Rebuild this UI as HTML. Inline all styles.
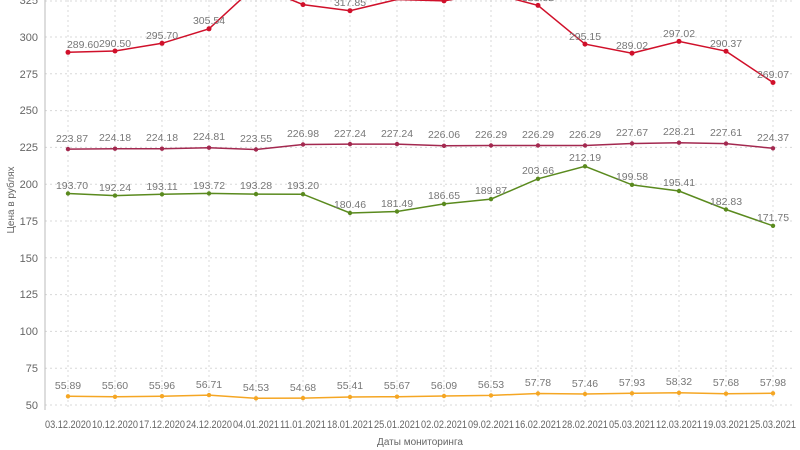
<!DOCTYPE html>
<html><head><meta charset="utf-8"><style>
html,body{margin:0;padding:0;background:#fff;width:800px;height:450px;overflow:hidden}
svg{display:block;font-family:"Liberation Sans",sans-serif}
.g{stroke:#d8d8d8;stroke-dasharray:2,3;stroke-width:1}
.yl{font-size:11px;fill:#666;text-anchor:end}
.xl{font-size:11px;fill:#666;text-anchor:middle}
.v{font-size:10.5px;fill:#777;text-anchor:middle}
</style></head><body>
<svg width="800" height="450" viewBox="0 0 800 450">
<g class="g">
<line x1="45" x2="795" y1="405" y2="405"/><line x1="45" x2="795" y1="368.2" y2="368.2"/><line x1="45" x2="795" y1="331.4" y2="331.4"/><line x1="45" x2="795" y1="294.6" y2="294.6"/><line x1="45" x2="795" y1="257.8" y2="257.8"/><line x1="45" x2="795" y1="221" y2="221"/><line x1="45" x2="795" y1="184.2" y2="184.2"/><line x1="45" x2="795" y1="147.4" y2="147.4"/><line x1="45" x2="795" y1="110.6" y2="110.6"/><line x1="45" x2="795" y1="73.8" y2="73.8"/><line x1="45" x2="795" y1="37" y2="37"/><line x1="45" x2="795" y1="1" y2="1"/>
<line x1="68" x2="68" y1="0" y2="410"/><line x1="115" x2="115" y1="0" y2="410"/><line x1="162" x2="162" y1="0" y2="410"/><line x1="209" x2="209" y1="0" y2="410"/><line x1="256" x2="256" y1="0" y2="410"/><line x1="303" x2="303" y1="0" y2="410"/><line x1="350" x2="350" y1="0" y2="410"/><line x1="397" x2="397" y1="0" y2="410"/><line x1="444" x2="444" y1="0" y2="410"/><line x1="491" x2="491" y1="0" y2="410"/><line x1="538" x2="538" y1="0" y2="410"/><line x1="585" x2="585" y1="0" y2="410"/><line x1="632" x2="632" y1="0" y2="410"/><line x1="679" x2="679" y1="0" y2="410"/><line x1="726" x2="726" y1="0" y2="410"/><line x1="773" x2="773" y1="0" y2="410"/>
</g>
<line x1="45" x2="45" y1="0" y2="410" stroke="#bbb"/>
<g class="yl">
<text x="38" y="409">50</text><text x="38" y="372">75</text><text x="38" y="335">100</text><text x="38" y="298">125</text><text x="38" y="262">150</text><text x="38" y="225">175</text><text x="38" y="188">200</text><text x="38" y="151">225</text><text x="38" y="114">250</text><text x="38" y="78">275</text><text x="38" y="41">300</text><text x="38" y="4">325</text>
</g>
<text transform="translate(14,200) rotate(-90)" font-size="10" fill="#666" text-anchor="middle">Цена в рублях</text>
<g class="xl">
<text x="68" y="428" textLength="46" lengthAdjust="spacingAndGlyphs">03.12.2020</text><text x="115" y="428" textLength="46" lengthAdjust="spacingAndGlyphs">10.12.2020</text><text x="162" y="428" textLength="46" lengthAdjust="spacingAndGlyphs">17.12.2020</text><text x="209" y="428" textLength="46" lengthAdjust="spacingAndGlyphs">24.12.2020</text><text x="256" y="428" textLength="46" lengthAdjust="spacingAndGlyphs">04.01.2021</text><text x="303" y="428" textLength="46" lengthAdjust="spacingAndGlyphs">11.01.2021</text><text x="350" y="428" textLength="46" lengthAdjust="spacingAndGlyphs">18.01.2021</text><text x="397" y="428" textLength="46" lengthAdjust="spacingAndGlyphs">25.01.2021</text><text x="444" y="428" textLength="46" lengthAdjust="spacingAndGlyphs">02.02.2021</text><text x="491" y="428" textLength="46" lengthAdjust="spacingAndGlyphs">09.02.2021</text><text x="538" y="428" textLength="46" lengthAdjust="spacingAndGlyphs">16.02.2021</text><text x="585" y="428" textLength="46" lengthAdjust="spacingAndGlyphs">28.02.2021</text><text x="632" y="428" textLength="46" lengthAdjust="spacingAndGlyphs">05.03.2021</text><text x="679" y="428" textLength="46" lengthAdjust="spacingAndGlyphs">12.03.2021</text><text x="726" y="428" textLength="46" lengthAdjust="spacingAndGlyphs">19.03.2021</text><text x="773" y="428" textLength="46" lengthAdjust="spacingAndGlyphs">25.03.2021</text>
</g>
<text x="420" y="445" font-size="10" fill="#666" text-anchor="middle">Даты мониторинга</text>

<polyline fill="none" stroke="#d0102a" stroke-width="1.5" points="68,52.3 115,51 162,43.3 209,28.8 256,-14.5 303,4.6 350,10.7 397,-0.5 444,0.9 491,-7 538,5.4 585,44.1 632,53.2 679,41.4 726,51.2 773,82.5"/>
<g fill="#d0102a"><circle cx="68" cy="52.3" r="2.5"/><circle cx="115" cy="51" r="2.5"/><circle cx="162" cy="43.3" r="2.5"/><circle cx="209" cy="28.8" r="2.5"/><circle cx="303" cy="4.6" r="2.5"/><circle cx="350" cy="10.7" r="2.5"/><circle cx="444" cy="0.9" r="2.5"/><circle cx="538" cy="5.4" r="2.5"/><circle cx="585" cy="44.1" r="2.5"/><circle cx="632" cy="53.2" r="2.5"/><circle cx="679" cy="41.4" r="2.5"/><circle cx="726" cy="51.2" r="2.5"/><circle cx="773" cy="82.5" r="2.5"/></g>
<g class="v"><text x="83" y="48">289.60</text><text x="115" y="47">290.50</text><text x="162" y="39">295.70</text><text x="209" y="24">305.54</text><text x="350" y="6">317.85</text><text x="538" y="1">321.82</text><text x="585" y="40">295.15</text><text x="632" y="49">289.02</text><text x="679" y="37">297.02</text><text x="726" y="47">290.37</text><text x="773" y="78">269.07</text></g>

<polyline fill="none" stroke="#a3284f" stroke-width="1.5" points="68,149.1 115,148.7 162,148.7 209,147.7 256,149.5 303,144.5 350,144.1 397,144.1 444,145.8 491,145.5 538,145.5 585,145.5 632,143.5 679,142.7 726,143.6 773,148.3"/>
<g fill="#a3284f"><circle cx="68" cy="149.1" r="2.2"/><circle cx="115" cy="148.7" r="2.2"/><circle cx="162" cy="148.7" r="2.2"/><circle cx="209" cy="147.7" r="2.2"/><circle cx="256" cy="149.5" r="2.2"/><circle cx="303" cy="144.5" r="2.2"/><circle cx="350" cy="144.1" r="2.2"/><circle cx="397" cy="144.1" r="2.2"/><circle cx="444" cy="145.8" r="2.2"/><circle cx="491" cy="145.5" r="2.2"/><circle cx="538" cy="145.5" r="2.2"/><circle cx="585" cy="145.5" r="2.2"/><circle cx="632" cy="143.5" r="2.2"/><circle cx="679" cy="142.7" r="2.2"/><circle cx="726" cy="143.6" r="2.2"/><circle cx="773" cy="148.3" r="2.2"/></g>
<g class="v"><text x="72" y="142">223.87</text><text x="115" y="141">224.18</text><text x="162" y="141">224.18</text><text x="209" y="140">224.81</text><text x="256" y="142">223.55</text><text x="303" y="137">226.98</text><text x="350" y="137">227.24</text><text x="397" y="137">227.24</text><text x="444" y="138">226.06</text><text x="491" y="138">226.29</text><text x="538" y="138">226.29</text><text x="585" y="138">226.29</text><text x="632" y="136">227.67</text><text x="679" y="135">228.21</text><text x="726" y="136">227.61</text><text x="773" y="141">224.37</text></g>

<polyline fill="none" stroke="#5a8a1e" stroke-width="1.5" points="68,193.5 115,195.6 162,194.3 209,193.4 256,194.1 303,194.2 350,213 397,211.5 444,203.9 491,199.1 538,178.8 585,166.3 632,184.8 679,191 726,209.5 773,225.8"/>
<g fill="#5a8a1e"><circle cx="68" cy="193.5" r="2.2"/><circle cx="115" cy="195.6" r="2.2"/><circle cx="162" cy="194.3" r="2.2"/><circle cx="209" cy="193.4" r="2.2"/><circle cx="256" cy="194.1" r="2.2"/><circle cx="303" cy="194.2" r="2.2"/><circle cx="350" cy="213" r="2.2"/><circle cx="397" cy="211.5" r="2.2"/><circle cx="444" cy="203.9" r="2.2"/><circle cx="491" cy="199.1" r="2.2"/><circle cx="538" cy="178.8" r="2.2"/><circle cx="585" cy="166.3" r="2.2"/><circle cx="632" cy="184.8" r="2.2"/><circle cx="679" cy="191" r="2.2"/><circle cx="726" cy="209.5" r="2.2"/><circle cx="773" cy="225.8" r="2.2"/></g>
<g class="v"><text x="72" y="189">193.70</text><text x="115" y="191">192.24</text><text x="162" y="190">193.11</text><text x="209" y="189">193.72</text><text x="256" y="189">193.28</text><text x="303" y="189">193.20</text><text x="350" y="208">180.46</text><text x="397" y="207">181.49</text><text x="444" y="199">186.65</text><text x="491" y="194">189.87</text><text x="538" y="174">203.66</text><text x="585" y="161">212.19</text><text x="632" y="180">199.58</text><text x="679" y="186">195.41</text><text x="726" y="205">182.83</text><text x="773" y="221">171.75</text></g>

<polyline fill="none" stroke="#f5a623" stroke-width="1.5" points="68,396.3 115,396.8 162,396.2 209,395.1 256,398.3 303,398.1 350,397 397,396.7 444,396 491,395.4 538,393.5 585,394 632,393.3 679,392.8 726,393.7 773,393.3"/>
<g fill="#f5a623"><circle cx="68" cy="396.3" r="2.2"/><circle cx="115" cy="396.8" r="2.2"/><circle cx="162" cy="396.2" r="2.2"/><circle cx="209" cy="395.1" r="2.2"/><circle cx="256" cy="398.3" r="2.2"/><circle cx="303" cy="398.1" r="2.2"/><circle cx="350" cy="397" r="2.2"/><circle cx="397" cy="396.7" r="2.2"/><circle cx="444" cy="396" r="2.2"/><circle cx="491" cy="395.4" r="2.2"/><circle cx="538" cy="393.5" r="2.2"/><circle cx="585" cy="394" r="2.2"/><circle cx="632" cy="393.3" r="2.2"/><circle cx="679" cy="392.8" r="2.2"/><circle cx="726" cy="393.7" r="2.2"/><circle cx="773" cy="393.3" r="2.2"/></g>
<g class="v"><text x="68" y="389">55.89</text><text x="115" y="389">55.60</text><text x="162" y="389">55.96</text><text x="209" y="388">56.71</text><text x="256" y="391">54.53</text><text x="303" y="391">54.68</text><text x="350" y="389">55.41</text><text x="397" y="389">55.67</text><text x="444" y="389">56.09</text><text x="491" y="388">56.53</text><text x="538" y="386">57.78</text><text x="585" y="387">57.46</text><text x="632" y="386">57.93</text><text x="679" y="385">58.32</text><text x="726" y="386">57.68</text><text x="773" y="386">57.98</text></g>
</svg>
</body></html>
